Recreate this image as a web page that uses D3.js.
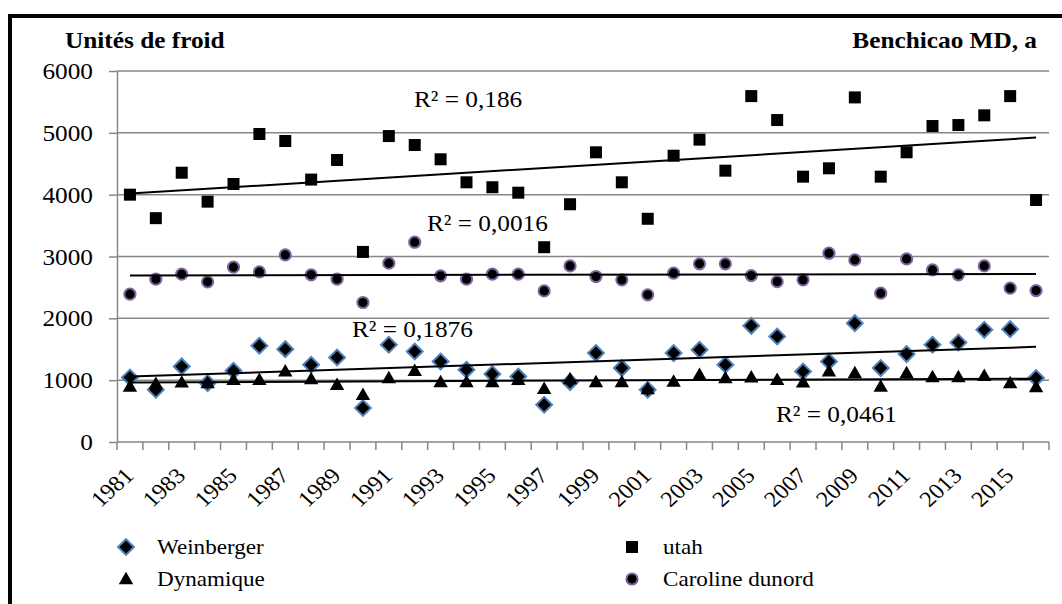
<!DOCTYPE html>
<html>
<head>
<meta charset="utf-8">
<script src="https://cdn.jsdelivr.net/npm/d3@7"></script>
<style>
  body { margin: 0; background: #fff; }
</style>
</head>
<body>
<svg width="1062" height="604"></svg>
<script>
const years = [1981, 1982, 1983, 1984, 1985, 1986, 1987, 1988, 1989, 1990, 1991, 1992,
  1993, 1994, 1995, 1996, 1997, 1998, 1999, 2000, 2001, 2002, 2003, 2004,
  2005, 2006, 2007, 2008, 2009, 2010, 2011, 2012, 2013, 2014, 2015, 2016];

const utah = [4000, 3620, 4355, 3887, 4173, 4981, 4868, 4244, 4561, 3074, 4948, 4803,
  4572, 4200, 4120, 4032, 3150, 3845, 4685, 4200, 3610, 4630, 4890, 4388,
  5594, 5207, 4291, 4426, 5573, 4291, 4685, 5110, 5126, 5283, 5594, 3914];

const caroline = [2391, 2633, 2714, 2590, 2827, 2751, 3026, 2703, 2633, 2256, 2892, 3231,
  2687, 2633, 2714, 2714, 2444, 2848, 2676, 2622, 2380, 2730, 2881, 2881,
  2692, 2595, 2622, 3053, 2945, 2407, 2961, 2783, 2703, 2848, 2488, 2449];

const weinberger = [1044, 845, 1222, 953, 1152, 1556, 1502, 1249, 1367, 549, 1572, 1464,
  1302, 1168, 1098, 1060, 603, 969, 1438, 1195, 845, 1438, 1491, 1249,
  1879, 1706, 1141, 1302, 1922, 1195, 1422, 1572, 1609, 1814, 1825, 1034];

const dynamique = [898, 942, 963, 953, 1006, 1006, 1141, 1018, 926, 764, 1034, 1152,
  969, 969, 969, 1006, 861, 1018, 969, 969, 856, 979, 1087, 1034,
  1044, 1006, 963, 1141, 1115, 898, 1115, 1050, 1050, 1071, 953, 888];

const yTicks = [0, 1000, 2000, 3000, 4000, 5000, 6000];
const r2Labels = ["R² = 0,186", "R² = 0,0016", "R² = 0,1876", "R² = 0,0461"];
const legendNames = ["Weinberger", "Dynamique", "utah", "Caroline dunord"];

const FONT = "'Liberation Serif', 'Times New Roman', serif";
const SX = 1.1; // the original is a bit stretched sideways

const svg = d3.select("svg").style("font-family", FONT);

const x = d3.scaleBand().domain(years).range([117, 1049]);
const y = d3.scaleLinear().domain([0, 6000]).range([442, 71]);
const cx = d => x(d) + x.bandwidth() / 2;

function label(parent, px, py, str, size, anchor, bold, rot) {
  return parent.append("text")
    .attr("transform", "translate(" + px + "," + py + ") scale(" + SX + ",1)" +
      (rot ? " rotate(" + rot + ")" : ""))
    .attr("text-anchor", anchor || "start")
    .style("font-family", FONT)
    .style("font-size", size + "px")
    .style("font-weight", bold ? "bold" : "normal")
    .attr("fill", "#000")
    .text(str);
}

// frame
svg.append("rect")
  .attr("x", 10).attr("y", 16)
  .attr("width", 1070).attr("height", 620)
  .attr("fill", "none").attr("stroke", "#000").attr("stroke-width", 4);

// gridlines
svg.append("g")
  .selectAll("line")
  .data(yTicks.slice(1))
  .enter().append("line")
  .attr("x1", 117).attr("x2", 1049)
  .attr("y1", d => y(d)).attr("y2", d => y(d))
  .attr("stroke", "#878787").attr("stroke-width", 1.5);

// y axis
const yAxis = svg.append("g")
  .attr("transform", "translate(117,0)")
  .call(d3.axisLeft(y).tickValues(yTicks).tickFormat("").tickSize(8).tickSizeOuter(0));
yAxis.select(".domain").attr("stroke", "#878787").attr("stroke-width", 1.5);
yAxis.selectAll(".tick line").attr("stroke", "#878787").attr("stroke-width", 1.5);
const yLab = svg.append("g");
yTicks.forEach(t => label(yLab, 93, y(t) + 8, t, 23, "end"));

// x axis
svg.append("line")
  .attr("x1", 117).attr("x2", 1049).attr("y1", 442).attr("y2", 442)
  .attr("stroke", "#878787").attr("stroke-width", 1.5);
const xTickPos = years.map(d => x(d)).concat([x.range()[1]]);
svg.append("g")
  .selectAll("line")
  .data(xTickPos)
  .enter().append("line")
  .attr("x1", d => d).attr("x2", d => d)
  .attr("y1", 442).attr("y2", 450)
  .attr("stroke", "#878787").attr("stroke-width", 1.5);
const xLab = svg.append("g");
years.filter((d, i) => i % 2 == 0)
  .forEach(d => label(xLab, cx(d) + 5, 477, d, 22, "end", false, -45));

// titles
label(svg, 65, 48, "Unités de froid", 23, "start", true);
label(svg, 1037, 48, "Benchicao MD, a", 23, "end", true);

// trendlines
function trend(values) {
  const n = values.length;
  const mx = d3.mean(years), my = d3.mean(values);
  let sxy = 0, sxx = 0;
  years.forEach((yr, i) => {
    sxy += (yr - mx) * (values[i] - my);
    sxx += (yr - mx) * (yr - mx);
  });
  const b = sxy / sxx, a = my - b * mx;
  return [years[0], years[n - 1]].map(yr => [cx(yr), y(a + b * yr)]);
}

// markers
const sq = d3.symbol().type(d3.symbolSquare);
const tri = d3.symbol().type(d3.symbolTriangle);

const drawDiamond = (g, px, py) => g.append("path")
  .attr("d", sq.size(125)())
  .attr("transform", "translate(" + px + "," + py + ") rotate(45)")
  .attr("fill", "#000").attr("stroke", "#4f81bd").attr("stroke-width", 2);
const drawSquare = (g, px, py) => g.append("path")
  .attr("d", sq.size(144)())
  .attr("transform", "translate(" + px + "," + py + ")")
  .attr("fill", "#000");
const drawTriangle = (g, px, py) => g.append("path")
  .attr("d", tri.size(90)())
  .attr("transform", "translate(" + px + "," + (py + 1) + ")")
  .attr("fill", "#000");
const drawCircle = (g, px, py) => g.append("circle")
  .attr("cx", px).attr("cy", py).attr("r", 5.6)
  .attr("fill", "#000").attr("stroke", "#8064a2").attr("stroke-width", 2);

function markers(values, draw) {
  const g = svg.append("g");
  values.forEach((v, i) => draw(g, cx(years[i]), y(v)));
}

markers(caroline, drawCircle);
markers(utah, drawSquare);
markers(weinberger, drawDiamond);
markers(dynamique, drawTriangle);

[utah, caroline, weinberger, dynamique].forEach(vals => {
  svg.append("path")
    .attr("d", d3.line()(trend(vals)))
    .attr("stroke", "#000").attr("stroke-width", 2).attr("fill", "none");
});

// R² labels
const r2Pos = [[414, 107], [427, 231], [352, 337], [776, 422]];
const r2g = svg.append("g");
r2Labels.forEach((t, i) => label(r2g, r2Pos[i][0], r2Pos[i][1], t, 23));

// legend
const lg = svg.append("g");
const legendPos = [[126, 547], [126, 579], [632, 547], [632, 579]];
const legendDraw = [drawDiamond, drawTriangle, drawSquare, drawCircle];
legendNames.forEach((name, i) => {
  const [px, py] = legendPos[i];
  legendDraw[i](lg, px, py);
  label(lg, px + 31, py + 7, name, 21);
});
</script>
</body>
</html>
